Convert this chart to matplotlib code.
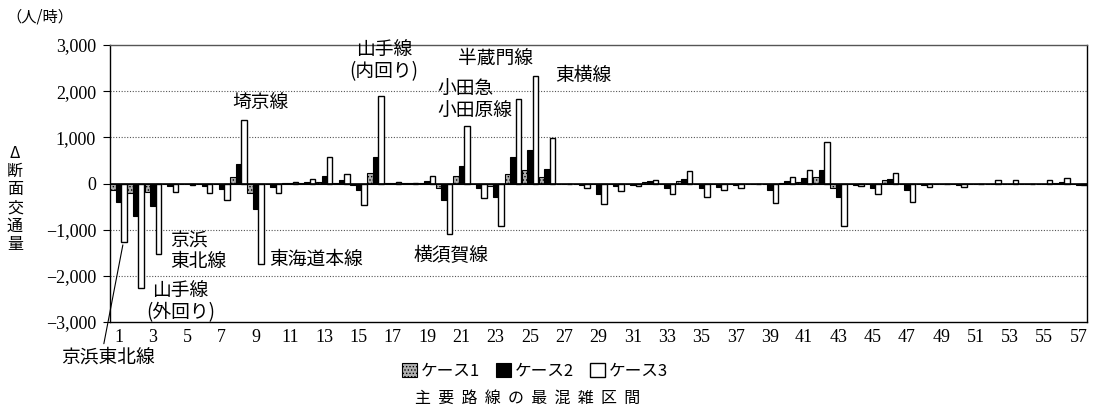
import numpy as np
import matplotlib
matplotlib.use('Agg')
import matplotlib.pyplot as plt
from matplotlib.ticker import FuncFormatter

plt.rcParams['font.family'] = ['Liberation Serif', 'Noto Sans CJK JP', 'DejaVu Sans']
plt.rcParams['hatch.linewidth'] = 0.6

sections = np.arange(1, 58)

case1 = [-130, -200, -180, -10, -5, -15, -20, 150, -210, -10,
         10, 20, 30, 20, -40, 235, 5, 5, 20, -105,
         160, -10, -60, 215, 300, 150, -10, -10, -20, -15,
         -10, 25, -20, 50, -20, -10, -10, -10, -20, 20,
         30, 135, -95, -10, -20, 70, -20, -10, 0, -10,
         -5, 0, 0, 0, 0, 10, -10]
case2 = [-405, -710, -490, -60, -15, -45, -120, 430, -545, -85,
         20, 35, 165, 70, -140, 575, 10, 10, 50, -355,
         370, -105, -300, 565, 720, 315, -15, -30, -225, -55,
         -30, 45, -90, 100, -95, -70, -25, -15, -130, 50,
         120, 300, -285, -30, -95, 100, -130, -25, 0, -30,
         -20, 0, 0, 0, 0, 35, -30]
case3 = [-1275, -2270, -1525, -175, -30, -200, -355, 1380, -1750, -210,
         25, 90, 570, 215, -460, 1885, 30, 20, 160, -1100,
         1240, -315, -920, 1840, 2320, 985, -20, -105, -435, -165,
         -55, 85, -220, 280, -285, -130, -95, -10, -415, 140,
         300, 905, -930, -55, -235, 230, -400, -70, 0, -70,
         0, 70, 70, 0, 70, 120, -35]

case_names = ['ケース1', 'ケース2', 'ケース3']
x_ticks = list(range(1, 58, 2))
y_ticks = [-3000, -2000, -1000, 0, 1000, 2000, 3000]

W, H = 1096, 417
fig = plt.figure(figsize=(W / 100, H / 100), dpi=100)
ax = fig.add_axes([110 / W, 1 - 322 / H, 977 / W, 277 / H])

bw = 0.32
ax.bar(sections - bw, case1, bw, facecolor='#b0b0b0', edgecolor='black',
       hatch='.....', linewidth=0.8, label=case_names[0], zorder=3)
ax.bar(sections, case2, bw, facecolor='black', edgecolor='black',
       linewidth=0.8, label=case_names[1], zorder=3)
ax.bar(sections + bw, case3, bw, facecolor='white', edgecolor='black',
       linewidth=1.0, label=case_names[2], zorder=3)

ax.set_xlim(0.5, 57.5)
ax.set_ylim(-3000, 3000)
ax.set_xticks(x_ticks)
ax.set_yticks(y_ticks)
ax.yaxis.set_major_formatter(FuncFormatter(
    lambda v, p: f'{v:,.0f}'.replace('-', '−')))
ax.tick_params(axis='x', length=0, labelsize=13, pad=5)
ax.tick_params(axis='y', length=5, width=0.8, labelsize=13, pad=5)

for g in [-2000, -1000, 1000, 2000]:
    ax.axhline(g, color='#555555', lw=0.8, ls=(0, (1, 1.5)), zorder=1)
ax.axhline(0, color='black', lw=1.2, zorder=4)
for s in ax.spines.values():
    s.set_linewidth(1.0)
ax.spines['top'].set_color('#555555')

# line labels
lab = dict(fontsize=13.5, family=['Noto Sans CJK JP', 'DejaVu Sans'])
ax.text(9.3, 1760, '埼京線', ha='center', va='center', **lab)
ax.text(16.5, 2660, '山手線\n(内回り)', ha='center', va='center',
        linespacing=1.05, **lab)
ax.text(19.6, 1800, '小田急\n小田原線', ha='left', va='center',
        linespacing=1.05, **lab)
ax.text(23.0, 2720, '半蔵門線', ha='center', va='center', **lab)
ax.text(28.1, 2350, '東横線', ha='center', va='center', **lab)
ax.text(4.0, -1460, '京浜\n東北線', ha='left', va='center',
        linespacing=1.05, **lab)
ax.text(4.6, -2560, '山手線\n(外回り)', ha='center', va='center',
        linespacing=1.05, **lab)
ax.text(9.8, -1640, '東海道本線', ha='left', va='center', **lab)
ax.text(20.4, -1550, '横須賀線', ha='center', va='center', **lab)
ax.annotate('京浜東北線', xy=(1.25, -1330), xycoords='data',
            xytext=(108 / W, 1 - 357 / H), textcoords='figure fraction',
            ha='center', va='center',
            arrowprops=dict(arrowstyle='-', lw=0.8, color='black',
                            relpos=(0.45, 1.0), shrinkA=0, shrinkB=0),
            annotation_clip=False, **lab)

# axis texts
fig.text(40 / W, 1 - 17 / H, '（人/時）', ha='center', va='center',
         fontsize=11, family=['Noto Sans CJK JP', 'DejaVu Sans'])
fig.text(15 / W, 1 - 199 / H, 'Δ\n断\n面\n交\n通\n量', ha='center',
         va='center', fontsize=11.5, linespacing=1.1,
         family=['Noto Sans CJK JP', 'DejaVu Sans'])

fig.legend(loc='center', bbox_to_anchor=(535 / W, 1 - 371 / H), ncol=3,
           frameon=False, handlelength=0.9, handleheight=0.9,
           handletextpad=0.2, columnspacing=1.0,
           prop={'family': ['Noto Sans CJK JP', 'DejaVu Sans'], 'size': 12})
fig.text(528 / W, 1 - 398 / H, '  '.join('主要路線の最混雑区間'), ha='center',
         va='center', fontsize=11.5,
         family=['Noto Sans CJK JP', 'DejaVu Sans'])

fig.savefig('out.png', dpi=100)
